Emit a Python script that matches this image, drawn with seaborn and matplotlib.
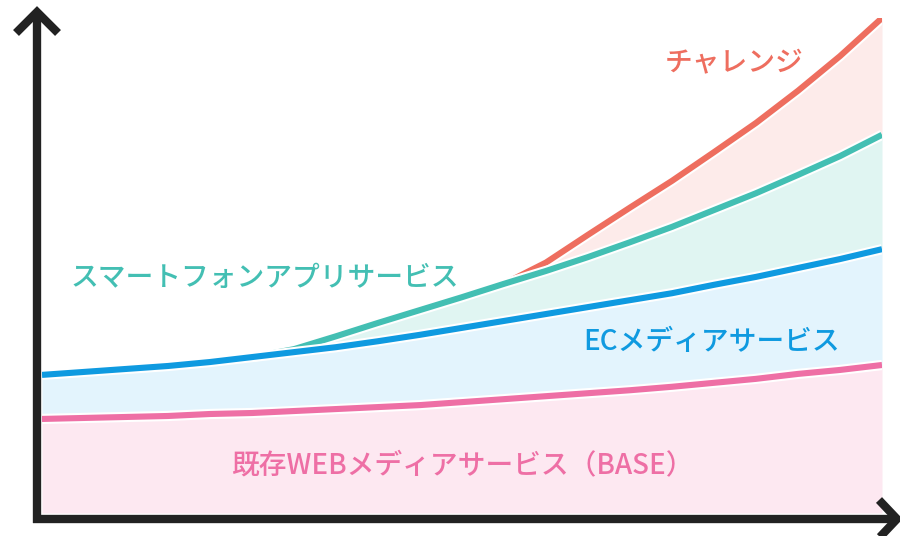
import numpy as np
import matplotlib
matplotlib.use("Agg")
import matplotlib.pyplot as plt
import matplotlib.patheffects as pe
import seaborn as sns

# Time steps along the horizontal axis
period = list(range(21))

# Cumulative level of each service layer (stacked, 0-100 scale)
base_web = [19.0, 19.2, 19.4, 19.6, 20.0, 20.2, 20.6, 21.0, 21.4, 21.8, 22.4,
            23.0, 23.6, 24.2, 24.8, 25.5, 26.3, 27.1, 28.1, 28.9, 29.9]
ec_media = [27.9, 28.5, 29.1, 29.7, 30.5, 31.5, 32.5, 33.5, 34.7, 36.0, 37.4,
            38.8, 40.2, 41.6, 43.0, 44.4, 46.1, 47.7, 49.5, 51.3, 53.3]
# Smartphone apps branch off at step 5, the challenge layer at step 11
smartphone_start = 5
smartphone = [31.5, 33.1, 35.7, 38.4, 41.0, 43.6, 46.3, 48.9, 51.7, 54.7,
              57.8, 61.2, 64.6, 68.3, 72.1, 76.4]
challenge_start = 11
challenge = [46.3, 50.6, 56.2, 61.7, 67.1, 72.9, 78.8, 85.3, 92.3, 100.0]

labels = ["既存WEBメディアサービス（BASE）", "ECメディアサービス",
          "スマートフォンアプリサービス", "チャレンジ"]
line_colors = ["#ee6fa5", "#0f9ae0", "#43bfb3", "#ee6e5f"]
fill_colors = ["#fde8f1", "#e3f4fd", "#e0f5f2", "#fdebea"]

sns.set_theme(style="white")
plt.rcParams["font.family"] = ["Noto Sans CJK JP", "DejaVu Sans"]

W, H = 900, 536
fig = plt.figure(figsize=(W / 100, H / 100), dpi=100)
ax = fig.add_axes([42 / W, 23 / H, 840 / W, 495 / H])
ax.set_xlim(0, 20)
ax.set_ylim(0, 100)
ax.axis("off")

x = np.array(period, dtype=float)
base = np.array(base_web)
ec = np.array(ec_media)
xs = x[smartphone_start:]
sp = np.array(smartphone)
xc = x[challenge_start:]
ch = np.array(challenge)
sp_at_ch = sp[challenge_start - smartphone_start:]

# Stacked bands
ax.fill_between(x, 0, base, color=fill_colors[0], lw=0, zorder=1)
ax.fill_between(x, base, ec, color=fill_colors[1], lw=0, zorder=1)
ax.fill_between(xs, ec[smartphone_start:], sp, color=fill_colors[2], lw=0, zorder=1)
ax.fill_between(xc, sp_at_ch, ch, color=fill_colors[3], lw=0, zorder=1)

lw = 4.4
halo = [pe.Stroke(linewidth=lw + 3.0, foreground="white"), pe.Normal()]

series = [
    (xc, ch, line_colors[3], 3),
    (xs, sp, line_colors[2], 4),
    (x, ec, line_colors[1], 5),
    (x, base, line_colors[0], 6),
]
for xv, yv, col, z in series:
    before = set(ax.lines)
    sns.lineplot(x=xv, y=yv, color=col, linewidth=lw, ax=ax, zorder=z,
                 solid_capstyle="butt", solid_joinstyle="round")
    for ln in ax.lines:
        if ln not in before:
            ln.set_path_effects(halo)

# Layer labels
fs = 20
tkw = dict(fontsize=fs, fontweight="medium", ha="center", va="center", zorder=8)
ax.text(16.48, 90.9, labels[3], color=line_colors[3], **tkw)
ax.text(5.3, 47.6, labels[2], color=line_colors[2], **tkw)
ax.text(15.95, 34.7, labels[1], color=line_colors[1], **tkw)
ax.text(10.0, 9.5, labels[0], color=line_colors[0], **tkw)

# Axes drawn as thick arrows on a full-figure overlay
ov = fig.add_axes([0, 0, 1, 1], zorder=10)
ov.set_xlim(0, W)
ov.set_ylim(H, 0)
ov.axis("off")
ov.patch.set_alpha(0)
axis_kw = dict(color="#222222", linewidth=6.0, solid_capstyle="butt",
               solid_joinstyle="miter")
ov.plot([37, 37], [523, 14], **axis_kw)
ov.plot([33, 895], [519, 519], **axis_kw)
ov.plot([16, 37, 58], [33, 12, 33], **axis_kw)
ov.plot([879, 897, 879], [500, 519, 538], **axis_kw)

fig.savefig("out.png", dpi=100, facecolor="white")
